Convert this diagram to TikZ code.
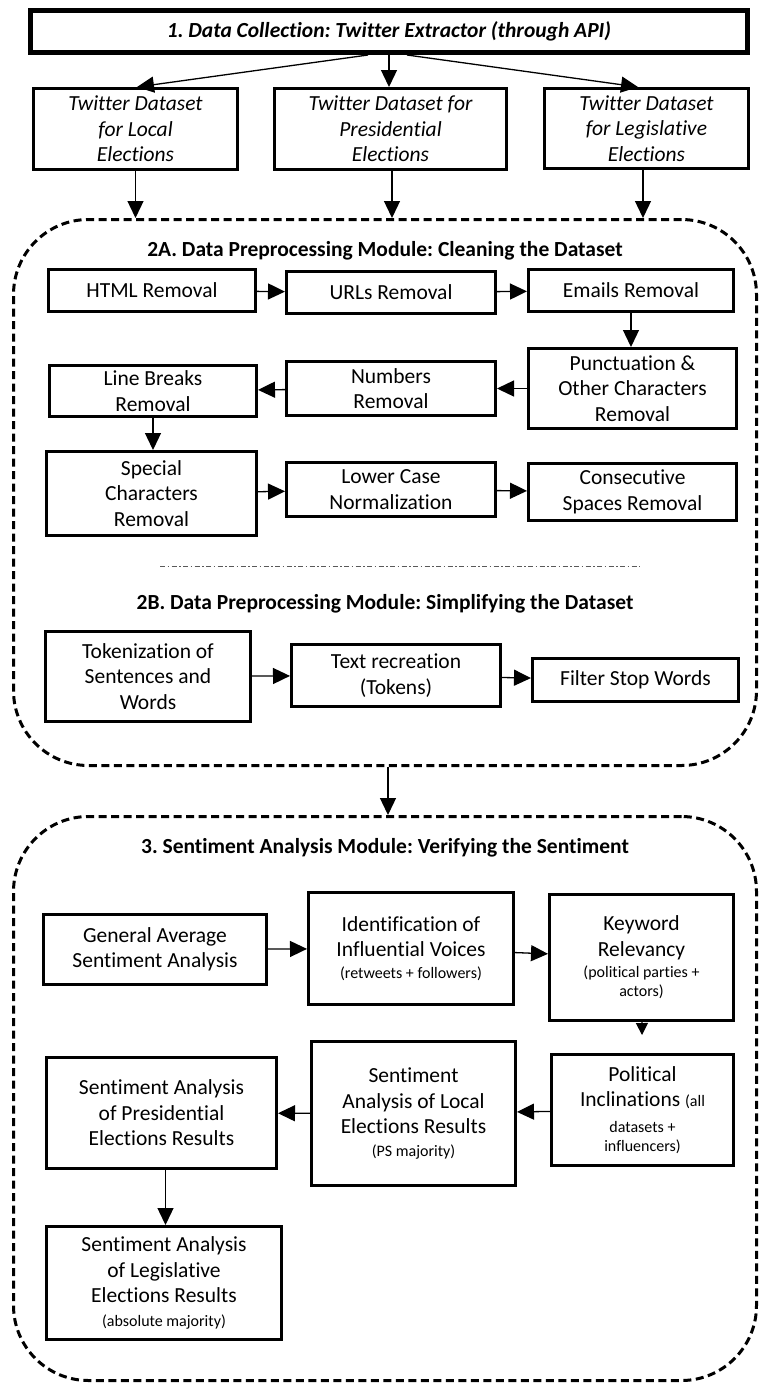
\documentclass[tikz,border=0pt]{standalone}
\usepackage{fontspec}
\setmainfont{Carlito}[Ligatures={NoCommon}]
\frenchspacing
\usetikzlibrary{arrows.meta}

\newcommand{\smalltxt}[1]{{\fontsize{16}{19}\selectfont #1}}

\begin{document}
\begin{tikzpicture}[x=1pt, y=-1pt,
    box/.style={draw, line width=3pt, align=center, inner sep=0pt, font=\fontsize{21.5}{25.5}\selectfont},
    dataset/.style={box, font=\fontsize{21.5}{25.5}\selectfont\itshape},
    module/.style={draw, line width=3pt, dash pattern=on 8pt off 4.5pt, rounded corners=75pt, minimum width=743pt},
    title/.style={font=\fontsize{21.5}{25.5}\selectfont\bfseries},
    arr/.style={-{Triangle[length=17pt,width=16pt]}, line width=1.3pt},
  ]
\useasboundingbox (0,0) rectangle (760,1385);

            % Define nodes
            \node[box, line width=5pt, font=\fontsize{21.5}{25.5}\selectfont\bfseries\itshape, minimum width=717pt, minimum height=42pt] (collect) at (389,31.5) {1. Data Collection: Twitter Extractor (through API)};

            \node[dataset, minimum width=204pt, minimum height=81pt] (local) at (135.5,129) {Twitter Dataset\\for Local\\Elections};
            \node[dataset, minimum width=232pt, minimum height=81pt] (pres) at (390.5,129) {Twitter Dataset for\\Presidential\\Elections};
            \node[dataset, minimum width=204pt, minimum height=80pt] (legis) at (646.5,128.5) {Twitter Dataset\\for Legislative\\Elections};

            \node[module, minimum height=546pt] (clean) at (385,492.5) {};
            \node[module, minimum height=564pt] (senti) at (385,1098.5) {};

            \node[title] (cleantitle) at (385,251) {2A. Data Preprocessing Module: Cleaning the Dataset};
            \node[title] (simptitle) at (385,604) {2B. Data Preprocessing Module: Simplifying the Dataset};
            \node[title] (sentititle) at (385,848) {3. Sentiment Analysis Module: Verifying the Sentiment};

            \node[box, minimum width=207pt, minimum height=42pt] (html) at (152,290.5) {HTML Removal};
            \node[box, minimum width=209pt, minimum height=42pt] (urls) at (391,292.5) {URLs Removal};
            \node[box, minimum width=205pt, minimum height=42pt] (emails) at (631,290.5) {Emails Removal};
            \node[box, minimum width=208pt, minimum height=80pt] (punct) at (632.5,388.5) {Punctuation \&\\Other Characters\\Removal};
            \node[box, minimum width=209pt, minimum height=54pt] (numbers) at (391,388.5) {Numbers\\Removal};
            \node[box, minimum width=207pt, minimum height=51pt] (linebr) at (153,391) {Line Breaks\\Removal};
            \node[box, minimum width=210pt, minimum height=84pt] (special) at (151.5,493.5) {Special\\Characters\\Removal};
            \node[box, minimum width=209pt, minimum height=54pt] (lower) at (391,489.5) {Lower Case\\Normalization};
            \node[box, minimum width=208pt, minimum height=57pt] (consec) at (632.5,492) {Consecutive\\Spaces Removal};

            \node[box, minimum width=205pt, minimum height=90pt] (token) at (148,676.5) {Tokenization of\\Sentences and\\Words};
            \node[box, minimum width=209pt, minimum height=62pt] (textrec) at (396,675.5) {Text recreation\\(Tokens)};
            \node[box, minimum width=206pt, minimum height=43pt] (stopw) at (635.5,680) {Filter Stop Words};

            \node[box, minimum width=223pt, minimum height=70pt] (general) at (155,949.5) {General Average\\Sentiment Analysis};
            \node[box, minimum width=205pt, minimum height=112pt] (ident) at (411,948.5) {Identification of\\Influential Voices\\[-4pt]\smalltxt{(retweets + followers)}};
            \node[box, minimum width=184pt, minimum height=126pt] (keyword) at (641.5,957.5) {Keyword\\Relevancy\\[-4pt]\smalltxt{(political parties +}\\[-6.5pt]\smalltxt{actors)}};
            \node[box, minimum width=182pt, minimum height=111pt] (incl) at (642.5,1110) {Political\\Inclinations \smalltxt{(all}\\\smalltxt{datasets +}\\[-6pt]\smalltxt{influencers)}};
            \node[box, minimum width=204pt, minimum height=144pt] (localres) at (413.5,1113.5) {Sentiment\\Analysis of Local\\Elections Results\\[-3pt]\smalltxt{(PS majority)}};
            \node[box, minimum width=230pt, minimum height=111pt] (presres) at (161.5,1113) {Sentiment Analysis\\of Presidential\\Elections Results};
            \node[box, minimum width=235pt, minimum height=113pt] (legisres) at (164,1283) {Sentiment Analysis\\of Legislative\\Elections Results\\[-2pt]\smalltxt{(absolute majority)}};

            % Separator between 2A and 2B
            \draw[line width=1pt, black!65, dash pattern=on 5pt off 2.5pt on 1.5pt off 2.5pt] (160,566) -- (640,566);

            % Draw edges
            \draw[arr] ([xshift=-21pt]collect.south) -- ([xshift=1.5pt]local.north);
            \draw[arr] (collect.south) -- (collect.south |- pres.north);
            \draw[arr] ([xshift=18pt]collect.south) -- ([xshift=-8.5pt]legis.north);

            \draw[arr] (local.south) -- (local.south |- clean.north);
            \draw[arr] ([xshift=1.5pt]pres.south) -- ([xshift=1.5pt]pres.south |- clean.north);
            \draw[arr] ([xshift=-3.5pt]legis.south) -- ([xshift=-3.5pt]legis.south |- clean.north);

            \draw[arr] (html) -- (urls);
            \draw[arr] (urls) -- (emails);
            \draw[arr] (emails.south) -- (emails.south |- punct.north);
            \draw[arr] (punct) -- (numbers);
            \draw[arr] (numbers) -- (linebr);
            \draw[arr] (linebr.south) -- (linebr.south |- special.north);
            \draw[arr] (special) -- (lower);
            \draw[arr] (lower) -- (consec);

            \draw[arr] (token) -- (textrec);
            \draw[arr] (textrec) -- (stopw);

            \draw[arr] ([xshift=3pt]clean.south) -- ([xshift=3pt]senti.north);

            \draw[arr] (general) -- (ident);
            \draw[arr] (ident) -- (keyword);
            \draw[-{Triangle[length=12pt,width=12pt]}, line width=1.3pt, shorten >=18pt] (keyword) -- (incl);
            \draw[arr] (incl) -- (localres);
            \draw[arr] (localres) -- (presres);
            \draw[arr] ([xshift=4pt]presres.south) -- ([xshift=4pt]presres.south |- legisres.north);

        \end{tikzpicture}
\end{document}
